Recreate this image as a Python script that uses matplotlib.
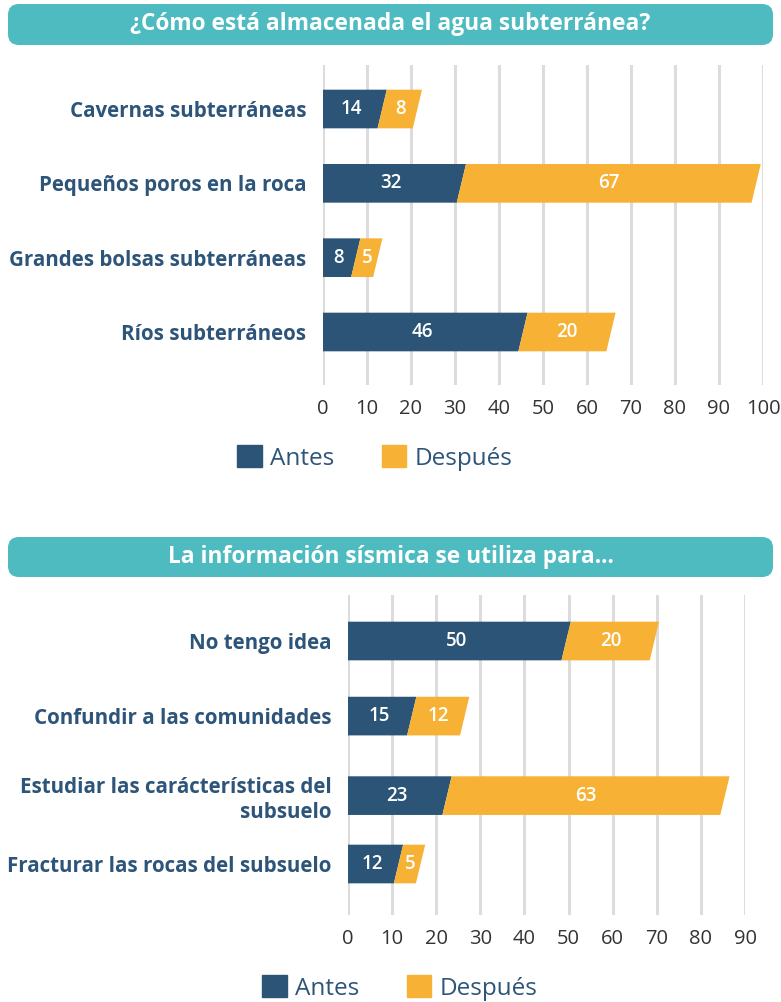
import matplotlib.pyplot as plt
from matplotlib.patches import FancyBboxPatch, Patch

plt.rcParams['font.family'] = ['Open Sans', 'DejaVu Sans']

# Data
titles = ['¿Cómo está almacenada el agua subterránea?',
          'La información sísmica se utiliza para...']
water_labels = ['Cavernas subterráneas', 'Pequeños poros en la roca',
                'Grandes bolsas subterráneas', 'Ríos subterráneos']
water_before = [14, 32, 8, 46]
water_after = [8, 67, 5, 20]

seismic_labels = ['No tengo idea', 'Confundir a las comunidades',
                  'Estudiar las carácterísticas del\nsubsuelo',
                  'Fracturar las rocas del subsuelo']
seismic_before = [50, 15, 23, 12]
seismic_after = [20, 12, 63, 5]

series_names = ['Antes', 'Después']
BLUE = '#2B5476'
ORANGE = '#F7B236'
TEAL = '#4DBBBF'
LABEL = '#2D5479'
GRID = '#DCDCDC'

W, H = 781, 1002
fig = plt.figure(figsize=(W / 100, H / 100), dpi=100)


def px_axes(x0, y0, x1, y1):
    return fig.add_axes([x0 / W, 1 - y1 / H, (x1 - x0) / W, (y1 - y0) / H])


def header(y0, y1, text):
    box = FancyBboxPatch((8 / W, 1 - y1 / H), 765 / W, (y1 - y0) / H,
                         boxstyle='round,pad=0,rounding_size=0.014',
                         transform=fig.transFigure, facecolor=TEAL,
                         edgecolor='none', mutation_aspect=W / H)
    fig.add_artist(box)
    fig.text(0.5, 1 - (y0 + y1) / 2 / H, text, color='white', fontsize=16.4,
             fontweight='bold', ha='center', va='center')


def slanted_segment(ax, y, a, b, color, h=0.52, lean=(0.5, 1.6)):
    # parallelogram with a leaning right edge; bars start square at zero
    top, bot = y - h / 2, y + h / 2
    la = (a, a) if a == 0 else (a + lean[0], a - lean[1])
    xs = [la[1], la[0], b + lean[0], b - lean[1]]
    ys = [bot, top, top, bot]
    ax.fill(xs, ys, color=color, lw=0, zorder=3)


def stacked_chart(ax, labels, before, after, xmax, ylim, ypos):
    for y, b, a in zip(ypos, before, after):
        slanted_segment(ax, y, 0, b, BLUE)
        slanted_segment(ax, y, b, b + a, ORANGE)
        ax.text(b / 2 - 0.5, y, str(b), color='white', fontsize=13.5,
                fontweight='semibold', ha='center', va='center', zorder=4)
        ax.text(b + a / 2 - 0.5, y, str(a), color='white', fontsize=13.5,
                fontweight='semibold', ha='center', va='center', zorder=4)
    ax.set_xlim(0, xmax)
    ax.set_ylim(*ylim)
    ax.set_xticks(range(0, xmax + 1, 10))
    ax.set_yticks(list(ypos))
    ax.set_yticklabels(labels, fontsize=14.8, fontweight='bold', color=LABEL,
                       linespacing=1.25)
    ax.tick_params(axis='y', length=0, pad=12)
    ax.tick_params(axis='x', length=0, pad=10, labelsize=14.5, labelcolor='#333333')
    ax.grid(axis='x', color=GRID, lw=2.2, zorder=0)
    ax.set_axisbelow(True)
    for s in ax.spines.values():
        s.set_visible(False)
    ax.patch.set_alpha(0)


header(4, 45, titles[0])
ax1 = px_axes(323, 65, 763, 385)
stacked_chart(ax1, water_labels, water_before, water_after, 100,
              (3.713, -0.592), [0, 1, 2, 3])

header(537, 577, titles[1])
ax2 = px_axes(348, 595, 745, 915)
# the two-line label gets a little extra room
stacked_chart(ax2, seismic_labels, seismic_before, seismic_after, 90,
              (3.686, -0.619), [0, 1.01, 2.08, 3])

handles = [Patch(color=BLUE, label=series_names[0]),
           Patch(color=ORANGE, label=series_names[1])]
for cx, cy in [(375, 458), (400, 988)]:
    leg = fig.legend(handles=handles, loc='center', ncol=2, frameon=False,
                     bbox_to_anchor=(cx / W, 1 - cy / H), fontsize=17.5,
                     handlelength=1.0, handleheight=1.0, handletextpad=0.35,
                     columnspacing=1.95, borderpad=0)
    for t in leg.get_texts():
        t.set_color(LABEL)

fig.savefig('out.png', dpi=100)
